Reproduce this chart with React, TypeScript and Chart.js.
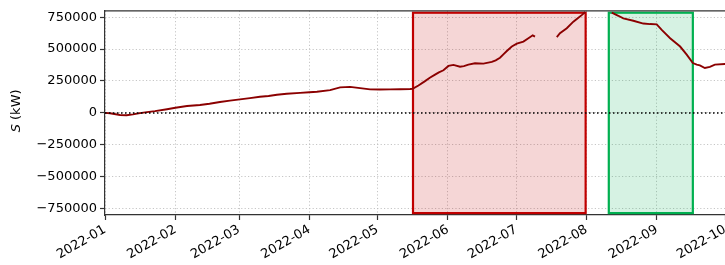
import React, { useEffect, useRef } from 'react';
import { Chart, registerables } from 'chart.js';

Chart.register(...registerables);

// Day offsets from 2022-01-01
const monthTicks = [0, 31, 59, 90, 120, 151, 181, 212, 243, 273];
const monthLabels = ['2022-01', '2022-02', '2022-03', '2022-04', '2022-05', '2022-06', '2022-07', '2022-08', '2022-09', '2022-10'];
const yTicks = [-750000, -500000, -250000, 0, 250000, 500000, 750000];

const seriesDays = [
  0, 2.2, 6.6, 9.5, 12.3, 15.4, 18.5, 22, 27.3, 31, 36.1, 41.8, 46, 50.6, 55, 59.4, 63.8, 68.2, 72, 75.7, 80, 85.9, 90, 93.3, 99.1, 103.5, 107.9, 112.3, 116.7, 121, 125.5, 130, 134.3, 135.4,
  138, 140.9, 143, 145.3, 147, 149.0, 151.2, 153.4, 156.3, 158, 160.0, 162.9, 166.6, 170.3, 172, 173.9, 175.5, 176.9, 179.1, 181.3, 184.2, 186.4, 188.3, 189.3,
  190.5,
  198.9, 200.3, 203.3, 206.2, 208.4, 210, 211.4,
  217,
  223.1, 226.0, 228.2, 232.6, 237.0, 240, 242.9, 245.1, 248.8, 253.2, 256.1, 258.8, 260.5, 261.9, 264.1, 266.3, 268.5, 272.9, 278,
];
const seriesValues = [
  0, -3000, -16000, -18000, -12000, -2000, 6000, 14000, 29000, 40000, 54000, 62000, 72000, 85000, 96000, 106000, 116000, 127000, 132000, 142000, 150000, 157000, 162000, 166000, 178000, 200000, 204000, 194000, 184000, 183000, 184000, 185000, 187000, 188000,
  215000, 249000, 275000, 300000, 318000, 334000, 368000, 376000, 362000, 366000, 378000, 389000, 386000, 400000, 412000, 432000, 460000, 485000, 520000, 543000, 559000, 585000, 608000, 598000,
  null,
  593000, 624000, 663000, 715000, 746000, 768000, 790000,
  null,
  785000, 761000, 740000, 722000, 700000, 696000, 694000, 650000, 585000, 520000, 456000, 391000, 378000, 373000, 352000, 360000, 378000, 383000, 386000,
];

const redSpan = [135.6, 211.6];
const greenSpan = [221.8, 258.8];
const spanLimits = [-785000, 785000];
const zeroLevel = 0;
const xRange = [0, 280];
const yRange = [-800000, 800000];

const FONT = 'DejaVu Sans';

const decorPlugin = {
  id: 'decor',
  beforeDatasetsDraw(chart: any) {
    const { ctx, scales } = chart;
    const xs = scales.x;
    const ys = scales.y;
    const drawSpan = (span: number[], fill: string, stroke: string) => {
      const x1 = xs.getPixelForValue(span[0]);
      const x2 = xs.getPixelForValue(span[1]);
      const y1 = ys.getPixelForValue(spanLimits[1]);
      const y2 = ys.getPixelForValue(spanLimits[0]);
      ctx.save();
      ctx.fillStyle = fill;
      ctx.fillRect(x1, y1, x2 - x1, y2 - y1);
      ctx.strokeStyle = stroke;
      ctx.lineWidth = 2.2;
      ctx.strokeRect(x1, y1, x2 - x1, y2 - y1);
      ctx.restore();
    };
    drawSpan(redSpan, 'rgba(192,0,0,0.16)', '#c00000');
    drawSpan(greenSpan, 'rgba(0,176,80,0.16)', '#00b050');
  },
  afterDraw(chart: any) {
    const { ctx, chartArea } = chart;
    ctx.save();
    ctx.strokeStyle = '#333';
    ctx.lineWidth = 1.2;
    ctx.beginPath();
    ctx.moveTo(chartArea.left, chartArea.top);
    ctx.lineTo(chartArea.right, chartArea.top);
    ctx.lineTo(chartArea.right, chartArea.bottom);
    ctx.stroke();
    // y title with italic S
    const cy = (chartArea.top + chartArea.bottom) / 2 - 2;
    ctx.translate(17, cy);
    ctx.rotate(-Math.PI / 2);
    ctx.fillStyle = '#000';
    ctx.textBaseline = 'middle';
    const italic = `italic 13px "${FONT}"`;
    const normal = `13px "${FONT}"`;
    ctx.font = italic;
    const w1 = ctx.measureText('S').width;
    ctx.font = normal;
    const w2 = ctx.measureText(' (kW)').width;
    const start = -(w1 + w2) / 2;
    ctx.font = italic;
    ctx.textAlign = 'left';
    ctx.fillText('S', start, 0);
    ctx.font = normal;
    ctx.fillText(' (kW)', start + w1, 0);
    ctx.restore();
  },
};

const gridOpts: any = {
  color: '#b8b8b8',
  lineWidth: 0.8,
  tickColor: '#333',
  tickLength: 5,
  tickWidth: 1.2,
  tickBorderDash: [],
};
const borderOpts: any = { display: true, color: '#333', width: 1.2, dash: [1.2, 2.2] };

export default function App() {
  const ref = useRef<HTMLCanvasElement | null>(null);

  useEffect(() => {
    document.body.style.margin = '0';
    document.body.style.overflow = 'hidden';
    const canvas = ref.current!;
    const points = seriesDays.map((d, i) => ({ x: d, y: seriesValues[i] }));
    const zeroPts = xRange.map((d) => ({ x: d, y: zeroLevel }));
    const chart = new Chart(canvas, {
      type: 'line',
      data: {
        datasets: [
          {
            data: zeroPts as any,
            borderColor: '#000',
            borderWidth: 1.5,
            borderDash: [1.5, 2.5],
            pointRadius: 0,
            tension: 0,
          },
          {
            data: points as any,
            borderColor: '#8b0000',
            borderWidth: 1.9,
            pointRadius: 0,
            spanGaps: false,
            tension: 0,
          },
        ],
      },
      options: {
        animation: false,
        responsive: false,
        events: [],
        layout: { padding: { left: 0, top: 9, right: 19, bottom: 0 } },
        plugins: { legend: { display: false }, tooltip: { enabled: false } },
        scales: {
          x: {
            type: 'linear',
            min: xRange[0],
            max: xRange[1],
            afterBuildTicks: (s: any) => {
              s.ticks = monthTicks.map((v) => ({ value: v }));
            },
            afterFit: (s: any) => {
              s.height = 50;
            },
            ticks: {
              autoSkip: false,
              minRotation: 30,
              maxRotation: 30,
              padding: 2,
              color: '#000',
              font: { family: FONT, size: 13 },
              callback: (v: any) => {
                const i = monthTicks.indexOf(Number(v));
                return i >= 0 ? monthLabels[i] : '';
              },
            },
            grid: gridOpts,
            border: borderOpts,
          },
          y: {
            type: 'linear',
            min: yRange[0],
            max: yRange[1],
            afterBuildTicks: (s: any) => {
              s.ticks = yTicks.map((v) => ({ value: v }));
            },
            afterFit: (s: any) => {
              s.width = 105;
            },
            ticks: {
              padding: 3,
              color: '#000',
              font: { family: FONT, size: 13 },
              callback: (v: any) => {
                const n = Number(v);
                return n < 0 ? '\u2212' + String(Math.abs(n)) : String(n);
              },
            },
            grid: gridOpts,
            border: borderOpts,
          },
        },
      },
      plugins: [decorPlugin],
    });
    return () => chart.destroy();
  }, []);

  return (
    <div style={{ width: 725, height: 265, overflow: 'hidden', position: 'relative', background: '#fff' }}>
      <canvas ref={ref} width={760} height={265} style={{ display: 'block' }} />
    </div>
  );
}
